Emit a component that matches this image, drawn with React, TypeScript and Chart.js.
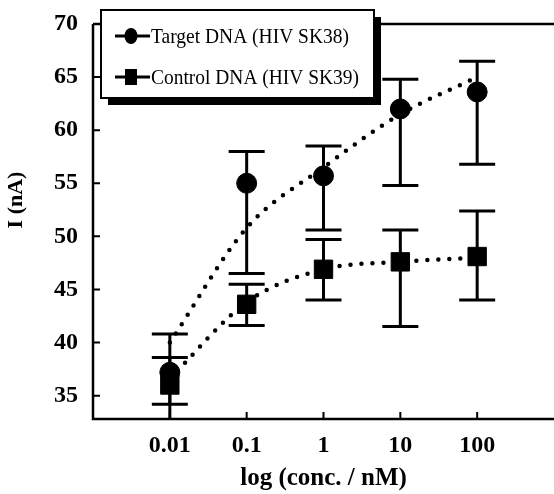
import React, { useEffect, useRef } from 'react';
import { Chart, registerables } from 'chart.js';
Chart.register(...registerables);

const categories = ['0.01', '0.1', '1', '10', '100'];
const xPositions = [1, 2, 3, 4, 5];
const targetMean = [37.2, 55.0, 55.7, 62.0, 63.6];
const targetHigh = [40.8, 58.0, 58.5, 64.8, 66.5];
const targetLow = [31.0, 46.5, 50.6, 54.8, 56.8];
const controlMean = [36.0, 43.6, 46.9, 47.6, 48.1];
const controlHigh = [38.6, 45.5, 49.7, 50.6, 52.4];
const controlLow = [34.2, 41.6, 44.0, 41.5, 44.0];
const targetFit = [40.0, 50.8, 56.5, 61.5, 65.0];
const controlFit = [36.6, 43.8, 46.9, 47.6, 48.0];
const yTickValues = [35, 40, 45, 50, 55, 60, 65, 70];
const legendLabels = ['Target DNA (HIV SK38)', 'Control DNA (HIV SK39)'];
const yTitle = 'I (nA)';
const xTitle = 'log (conc. / nM)';

const pts = (ys: number[]) => xPositions.map((x, i) => ({ x, y: ys[i] }));

const SERIF = '"Liberation Serif", "Times New Roman", serif';

const framePlugin = {
  id: 'framePlugin',
  beforeDatasetsDraw(chart: any) {
    const { ctx, chartArea, scales } = chart;
    const xs = scales.x;
    const ys = scales.y;
    ctx.save();
    ctx.strokeStyle = '#000';
    ctx.lineWidth = 2.5;
    ctx.beginPath();
    ctx.moveTo(chartArea.left, chartArea.top);
    ctx.lineTo(chartArea.right, chartArea.top);
    ctx.moveTo(chartArea.left, chartArea.top);
    ctx.lineTo(chartArea.left, chartArea.bottom);
    ctx.lineTo(chartArea.right, chartArea.bottom);
    ctx.stroke();
    ctx.lineWidth = 2;
    ctx.beginPath();
    yTickValues.forEach((v) => {
      const py = ys.getPixelForValue(v);
      ctx.moveTo(chartArea.left, py);
      ctx.lineTo(chartArea.left + 7, py);
    });
    xPositions.forEach((v) => {
      const px = xs.getPixelForValue(v);
      ctx.moveTo(px, chartArea.bottom);
      ctx.lineTo(px, chartArea.bottom - 7);
    });
    ctx.stroke();

    // y title
    ctx.save();
    ctx.translate(16, 200);
    ctx.rotate(-Math.PI / 2);
    ctx.font = `bold 22px ${SERIF}`;
    ctx.fillStyle = '#000';
    ctx.textAlign = 'center';
    ctx.textBaseline = 'middle';
    ctx.fillText(yTitle, 0, 0);
    ctx.restore();

    // error bars
    ctx.save();
    ctx.beginPath();
    ctx.rect(chartArea.left, chartArea.top, chartArea.right - chartArea.left, chartArea.bottom - chartArea.top);
    ctx.clip();
    ctx.lineWidth = 3;
    const drawErr = (lows: number[], highs: number[]) => {
      xPositions.forEach((x, i) => {
        const px = xs.getPixelForValue(x);
        const pl = ys.getPixelForValue(lows[i]);
        const ph = ys.getPixelForValue(highs[i]);
        ctx.beginPath();
        ctx.moveTo(px, pl);
        ctx.lineTo(px, ph);
        ctx.moveTo(px - 18, ph);
        ctx.lineTo(px + 18, ph);
        ctx.moveTo(px - 18, pl);
        ctx.lineTo(px + 18, pl);
        ctx.stroke();
      });
    };
    drawErr(targetLow, targetHigh);
    drawErr(controlLow, controlHigh);
    ctx.restore();
    ctx.restore();
  },
  afterDraw(chart: any) {
    const { ctx } = chart;
    ctx.save();
    const bx = 101, by = 10, bw = 273, bh = 88;
    ctx.fillStyle = '#000';
    ctx.fillRect(bx + 7, by + 7, bw, bh);
    ctx.fillStyle = '#fff';
    ctx.fillRect(bx, by, bw, bh);
    ctx.strokeStyle = '#000';
    ctx.lineWidth = 2;
    ctx.strokeRect(bx, by, bw, bh);
    const rows = [36, 77];
    const widths = [198, 208];
    rows.forEach((ry, i) => {
      ctx.lineWidth = 3;
      ctx.beginPath();
      ctx.moveTo(115, ry);
      ctx.lineTo(150, ry);
      ctx.stroke();
      ctx.fillStyle = '#000';
      if (i === 0) {
        ctx.beginPath();
        ctx.ellipse(131, ry, 6.5, 8, 0, 0, Math.PI * 2);
        ctx.fill();
      } else {
        ctx.fillRect(125, ry - 8, 12, 16);
      }
      ctx.font = `22px ${SERIF}`;
      ctx.textBaseline = 'middle';
      ctx.textAlign = 'left';
      const w = ctx.measureText(legendLabels[i]).width;
      ctx.save();
      ctx.translate(151, ry + 1);
      ctx.scale(widths[i] / w, 1);
      ctx.fillText(legendLabels[i], 0, 0);
      ctx.restore();
    });
    ctx.restore();
  },
};

export default function App() {
  const ref = useRef<HTMLCanvasElement>(null);
  useEffect(() => {
    document.body.style.margin = '0';
    const dotted = {
      type: 'line' as const,
      borderColor: '#000',
      borderWidth: 4.5,
      borderDash: [0, 11],
      borderCapStyle: 'round' as const,
      pointRadius: 0,
      cubicInterpolationMode: 'monotone' as const,
      fill: false,
      order: 2,
    };
    const chart = new Chart(ref.current as HTMLCanvasElement, {
      type: 'scatter',
      data: {
        datasets: [
          { ...dotted, label: 'target fit', data: pts(targetFit) },
          { ...dotted, label: 'control fit', data: pts(controlFit) },
          {
            label: legendLabels[0],
            data: pts(targetMean),
            pointStyle: 'circle',
            pointRadius: 10,
            backgroundColor: '#000',
            borderColor: '#000',
            showLine: false,
            order: 1,
          },
          {
            label: legendLabels[1],
            data: pts(controlMean),
            pointStyle: 'rect',
            pointRadius: 13,
            backgroundColor: '#000',
            borderColor: '#000',
            showLine: false,
            order: 0,
          },
        ],
      },
      options: {
        animation: false,
        responsive: false,
        layout: { autoPadding: false, padding: { top: 24, right: 0, left: 0, bottom: 0 } },
        plugins: { legend: { display: false }, tooltip: { enabled: false } },
        scales: {
          x: {
            type: 'linear',
            min: 0,
            max: 6,
            grid: { display: false, drawTicks: false },
            border: { display: false },
            afterBuildTicks: (s: any) => {
              s.ticks = xPositions.map((v) => ({ value: v }));
            },
            afterFit: (s: any) => {
              s.height = 75;
              s.paddingLeft = 0;
              s.paddingRight = 0;
            },
            ticks: {
              color: '#000',
              padding: 12,
              autoSkip: false,
              maxRotation: 0,
              font: { family: SERIF, size: 24, weight: 'bold' },
              callback: (v: any) => categories[xPositions.indexOf(Number(v))] ?? '',
            },
            title: {
              display: true,
              text: xTitle,
              color: '#000',
              font: { family: SERIF, size: 25, weight: 'bold' },
              padding: { top: 0, bottom: 0 },
            },
          },
          y: {
            type: 'linear',
            min: 32.8,
            max: 70,
            grid: { display: false, drawTicks: false },
            border: { display: false },
            afterBuildTicks: (s: any) => {
              s.ticks = yTickValues.map((v) => ({ value: v }));
            },
            afterFit: (s: any) => {
              s.width = 93;
              s.paddingTop = 0;
              s.paddingBottom = 0;
            },
            ticks: {
              color: '#000',
              padding: 15,
              font: { family: SERIF, size: 24, weight: 'bold' },
            },
          },
        },
      },
      plugins: [framePlugin],
    } as any);
    return () => chart.destroy();
  }, []);
  return (
    <div style={{ position: 'absolute', left: 0, top: 0, width: 554, height: 494 }}>
      <canvas ref={ref} width={554} height={494} />
    </div>
  );
}
